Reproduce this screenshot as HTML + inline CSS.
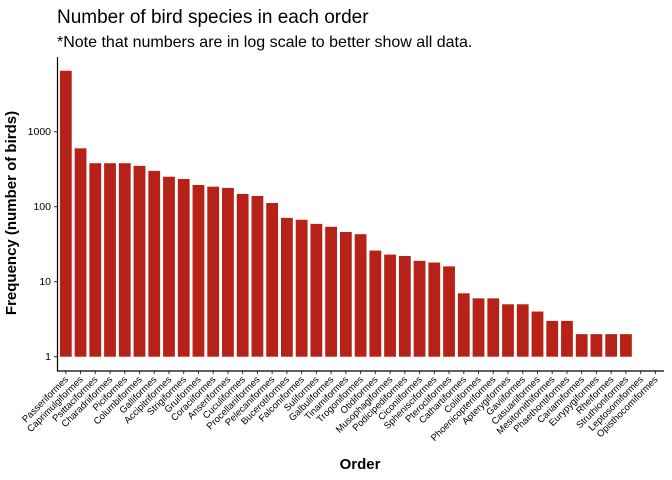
<!DOCTYPE html>
<html><head><meta charset="utf-8"><style>
body{margin:0;background:#fff}
svg{display:block;font-family:"Liberation Sans",Arial,sans-serif}
</style></head><body>
<svg id="chart" width="672" height="480" viewBox="0 0 672 480">
<text x="57" y="23" font-size="19" fill="#000">Number of bird species in each order</text>
<text x="57" y="47" font-size="16" fill="#000">*Note that numbers are in log scale to better show all data.</text>
<g id="bars"></g>
<g id="xlabels"></g>
<g id="ylabels"></g>
<line x1="57.5" y1="57" x2="57.5" y2="371" stroke="#000" stroke-width="1.2"/>
<line x1="57" y1="371" x2="664" y2="371" stroke="#000" stroke-width="1.2"/>
<text x="360" y="469" font-size="15" font-weight="bold" text-anchor="middle">Order</text>
<text transform="translate(16,213) rotate(-90)" font-size="15" font-weight="bold" text-anchor="middle">Frequency (number of birds)</text>
</svg>
<script>
const categories = ["Passeriformes","Caprimulgiformes","Psittaciformes","Charadriiformes","Piciformes","Columbiformes","Galliformes","Accipitriformes","Strigiformes","Gruiformes","Coraciiformes","Anseriformes","Cuculiformes","Procellariiformes","Pelecaniformes","Bucerotiformes","Falconiformes","Suliformes","Galbuliformes","Tinamiformes","Trogoniformes","Otidiformes","Musophagiformes","Podicipediformes","Ciconiiformes","Sphenisciformes","Pterocliformes","Cathartiformes","Coliiformes","Phoenicopteriformes","Apterygiformes","Gaviiformes","Casuariiformes","Mesitornithiformes","Phaethontiformes","Cariamiformes","Eurypygiformes","Rheiformes","Struthioniformes","Leptosomiformes","Opisthocomiformes"];
const counts = [6500,600,380,380,380,350,300,251,234,195,185,178,148,139,112,71,67,59,54,46,43,26,23,22,19,18,16,7,6,6,5,5,4,3,3,2,2,2,2,1,1];
const yTicks = [1,10,100,1000];
const yTickLabels = ["1","10","100","1000"];

const NS="http://www.w3.org/2000/svg";
const step=14.74, x0=65.8, barW=11.8;
function xScale(i){return x0+step*i;}
function yScale(v){return 356.7-75*Math.log10(v);}
const bars=document.getElementById('bars');
counts.forEach((v,i)=>{
  const r=document.createElementNS(NS,'rect');
  const yt=yScale(v), yb=yScale(1);
  r.setAttribute('x',xScale(i)-barW/2);
  r.setAttribute('y',yt);
  r.setAttribute('width',barW);
  r.setAttribute('height',Math.max(0,yb-yt));
  r.setAttribute('fill','#b72218');
  
  
  bars.appendChild(r);
});
const xl=document.getElementById('xlabels');
categories.forEach((c,i)=>{
  const x=xScale(i);
  const t=document.createElementNS(NS,'line');
  t.setAttribute('x1',x);t.setAttribute('x2',x);t.setAttribute('y1',371);t.setAttribute('y2',374);
  t.setAttribute('stroke','#333');
  
  
  xl.appendChild(t);
  const s=document.createElementNS(NS,'text');
  s.setAttribute('transform','translate('+(x+3)+',380) rotate(-45)');
  s.setAttribute('text-anchor','end');
  s.setAttribute('font-size','9.5');
  s.setAttribute('fill','#000');
  s.textContent=c;
  
  
  xl.appendChild(s);
});
const yl=document.getElementById('ylabels');
yTicks.forEach((v,i)=>{
  const y=yScale(v);
  const t=document.createElementNS(NS,'line');
  t.setAttribute('x1',54);t.setAttribute('x2',57);t.setAttribute('y1',y);t.setAttribute('y2',y);
  t.setAttribute('stroke','#333');
  
  
  yl.appendChild(t);
  const s=document.createElementNS(NS,'text');
  s.setAttribute('x',51);s.setAttribute('y',y+3.5);
  s.setAttribute('text-anchor','end');
  s.setAttribute('font-size','10.5');
  s.setAttribute('fill','#000');
  s.textContent=yTickLabels[i];
  
  
  yl.appendChild(s);
});
</script>
</body></html>
